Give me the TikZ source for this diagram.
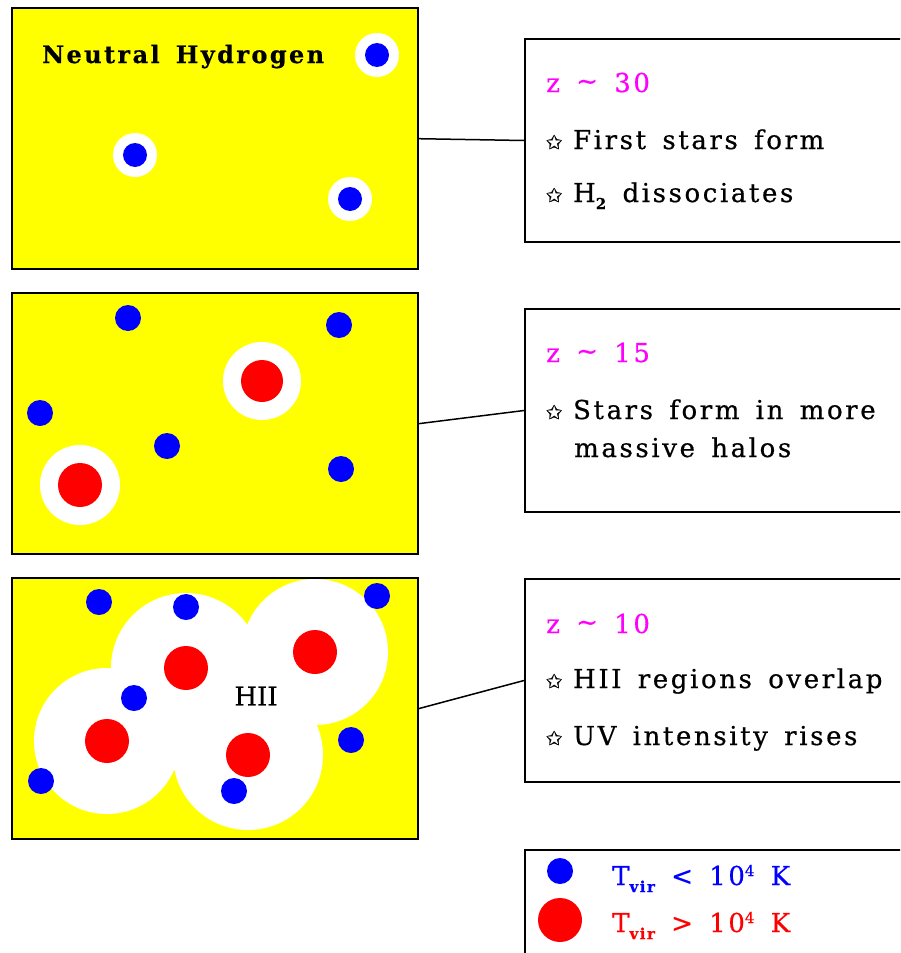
\documentclass[tikz,border=0pt]{standalone}
\usepackage{fontspec}
\setmainfont{DejaVu Serif}[LetterSpace=10,WordSpace=1.5,FakeBold=0.6]
\newfontfamily\plainserif{DejaVu Serif}[FakeBold=0.6]
\newfontfamily\symfont{DejaVu Sans}[FakeBold=1]
\definecolor{pyellow}{RGB}{255,255,0}
\definecolor{pblue}{RGB}{0,0,255}
\definecolor{pred}{RGB}{255,0,0}
\definecolor{zmag}{RGB}{255,0,255}
\newcommand{\mystar}{{\symfont\fontsize{19}{19}\selectfont ✩}\hspace{11pt}}
\newcommand{\sub}[1]{\raisebox{-7pt}{\fontsize{15}{15}\selectfont\bfseries #1}}
\newcommand{\supr}[1]{\raisebox{9pt}{\fontsize{15}{15}\selectfont #1}}
\begin{document}
\begin{tikzpicture}[x=1pt,y=-1pt,
  panelfill/.style={fill=pyellow,draw=none,minimum width=406pt,minimum height=261pt,anchor=north west,inner sep=0pt},
  infobox/.style={draw=black,line width=2pt,fill=white,minimum width=390pt,minimum height=203pt,anchor=north west,inner sep=0pt},
  txt/.style={anchor=base west,inner sep=0pt,font=\fontsize{26}{30}\selectfont},
  ztxt/.style={txt,text=zmag},
  conn/.style={draw=black,line width=1.5pt},
  border/.style={draw=black,line width=2pt},
  halo/.style={fill=white},
  bdot/.style={fill=pblue},
  rdot/.style={fill=pred}
]
\clip (0,0) rectangle (900,953);
\fill[white] (0,0) rectangle (900,953);

% ---------- Panel 1 ----------
\node[panelfill] (p1) at (12,8) {};
\fill[halo] (377,55) circle (22) (135,155) circle (22) (350,199) circle (22);
\fill[bdot] (377,55) circle (12) (135,155) circle (12) (350,199) circle (12);
\draw[border] (p1.north west) rectangle (p1.south east);
\node[txt,font=\fontsize{24}{28}\selectfont\bfseries] (nh) at (42,63) {Neutral Hydrogen};

% ---------- Panel 2 ----------
\node[panelfill] (p2) at (12,293) {};
\fill[halo] (262,381) circle (39) (80,485) circle (40);
\fill[rdot] (262,381) circle (21) (80,485) circle (22);
\fill[bdot] (128,318) circle (13) (339,325) circle (13) (40,413) circle (13)
  (167,446) circle (13) (341,469) circle (13);
\draw[border] (p2.north west) rectangle (p2.south east);

% ---------- Panel 3 ----------
\node[panelfill] (p3) at (12,578) {};
\fill[halo] (186,668) circle (75) (315,652) circle (73) (107,741) circle (73) (248,755) circle (75);
\fill[rdot] (186,668) circle (22) (315,652) circle (22) (107,741) circle (22) (248,755) circle (22);
\fill[bdot] (99,602) circle (13) (186,607) circle (13) (377,596) circle (13) (134,698) circle (13)
  (351,740) circle (13) (41,781) circle (13) (234,791) circle (13);
\draw[border] (p3.north west) rectangle (p3.south east);
\node[anchor=center,inner sep=0pt,font=\plainserif\fontsize{26}{28}\selectfont] (hii) at (256,696) {HII};

% ---------- Info boxes ----------
\node[infobox] (b1) at (524,38) {};
\node[ztxt] (z1) at (546,92) {z \raisebox{2pt}{\textasciitilde} 30};
\node[txt] (t11) at (546,149) {\mystar First stars form};
\node[txt] (t12) at (546,202) {\mystar H\sub{2} dissociates};

\node[infobox] (b2) at (524,308) {};
\node[ztxt] (z2) at (546,362) {z \raisebox{2pt}{\textasciitilde} 15};
\node[txt] (t21) at (546,419) {\mystar Stars form in more};
\node[txt] (t22) at (574,457) {massive halos};

\node[infobox] (b3) at (524,578) {};
\node[ztxt] (z3) at (546,633) {z \raisebox{2pt}{\textasciitilde} 10};
\node[txt] (t31) at (546,688) {\mystar HII regions overlap};
\node[txt] (t32) at (546,745) {\mystar UV intensity rises};

% ---------- Connectors ----------
\draw[conn] (p1.east) -- (b1.west);
\draw[conn] (p2.east) -- (b2.west);
\draw[conn] (p3.east) -- (b3.west);

% ---------- Legend ----------
\node[infobox,minimum height=120pt] (lg) at (524,849) {};
\fill[bdot] (560,871) circle (13);
\fill[rdot] (560,920) circle (22);
\node[txt,text=pblue] (l1) at (612,885) {T\sub{vir} < 10\supr{4} K};
\node[txt,text=pred] (l2) at (612,932) {T\sub{vir} > 10\supr{4} K};
\end{tikzpicture}
\end{document}
